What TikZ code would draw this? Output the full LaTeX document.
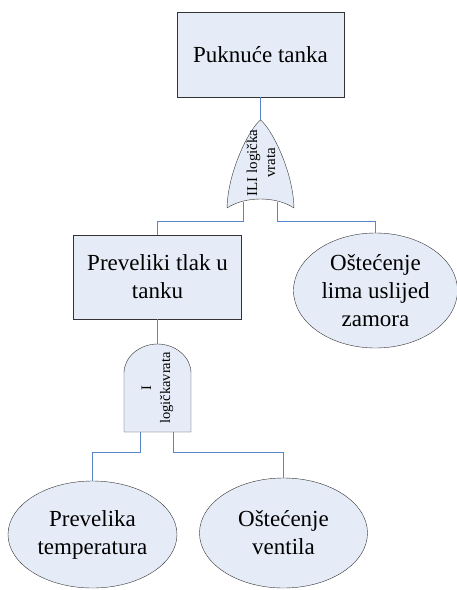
\documentclass[tikz,border=0pt]{standalone}
\usepackage{fontspec}
\setmainfont{Liberation Serif}
\usetikzlibrary{calc,shapes.geometric}
\definecolor{evfill}{RGB}{230,236,247}
\definecolor{linkblue}{RGB}{88,134,205}
\tikzset{
  event/.style={draw=black!80,fill=evfill,rectangle,inner sep=0pt,align=center,
    font=\fontsize{23}{28}\selectfont},
  basic/.style={event,ellipse},
  gate/.style={draw=black!80,fill=evfill},
  gatetext/.style={rotate=90,align=center,inner sep=0pt,
    font=\fontsize{15}{18}\selectfont},
  link/.style={draw=linkblue,line width=1pt}
}

\begin{document}
\begin{tikzpicture}[x=1pt,y=-1pt]
\useasboundingbox (0,0) rectangle (456,590);

\node[event,minimum width=167pt,minimum height=85pt] (tank) at (260.5,54.5) {Puknuće tanka};
\node[event,minimum width=168pt,minimum height=84pt] (tlak) at (157.5,277) {Preveliki tlak u\\tanku};
\node[basic,minimum width=164pt,minimum height=115pt] (lima) at (375.5,290.5) {Oštećenje\\lima uslijed\\zamora};
\node[basic,minimum width=169pt,minimum height=107pt] (temp) at (92.5,534.5) {Prevelika\\temperatura};
\node[basic,minimum width=168pt,minimum height=110pt] (ventil) at (283.5,533) {Oštećenje\\ventila};

\draw[gate]
  (260.5,120) coordinate (ortop) ..
  controls (250,128) and (228,170) .. (227,208) coordinate (orbl) ..
  controls (245,196) and (276,196) .. (294,208) coordinate (orbr) ..
  controls (293,170) and (271,128) .. (ortop) -- cycle;
\path
  (243.5,201.5) coordinate (orL)
  (277.5,201.5) coordinate (orR);
\node[gatetext] (orlbl) at (261,163) {ILI logička\\vrata};

\draw[gate]
  (124,432) coordinate (andbl) --
  (124,373) .. controls (124,357) and (139.5,344) .. (157.5,344) coordinate (andtop) ..
  controls (175.5,344) and (191,357) .. (191,373) --
  (191,432) coordinate (andbr) -- cycle;
\path
  (140.5,432) coordinate (andL)
  (173.5,432) coordinate (andR);
\node[gatetext,font=\fontsize{14.5}{19}\selectfont] (andlbl) at (157.5,388) {I\\logičkavrata};

\draw[link] (tank.south) -- (ortop);
\draw[link] (tlak.south) -- (andtop);
\foreach \leg/\child in {orL/tlak,orR/lima,andL/temp,andR/ventil}
  \draw[link] (\leg) -- ++(0,20) -| (\child.north);
\end{tikzpicture}
\end{document}
